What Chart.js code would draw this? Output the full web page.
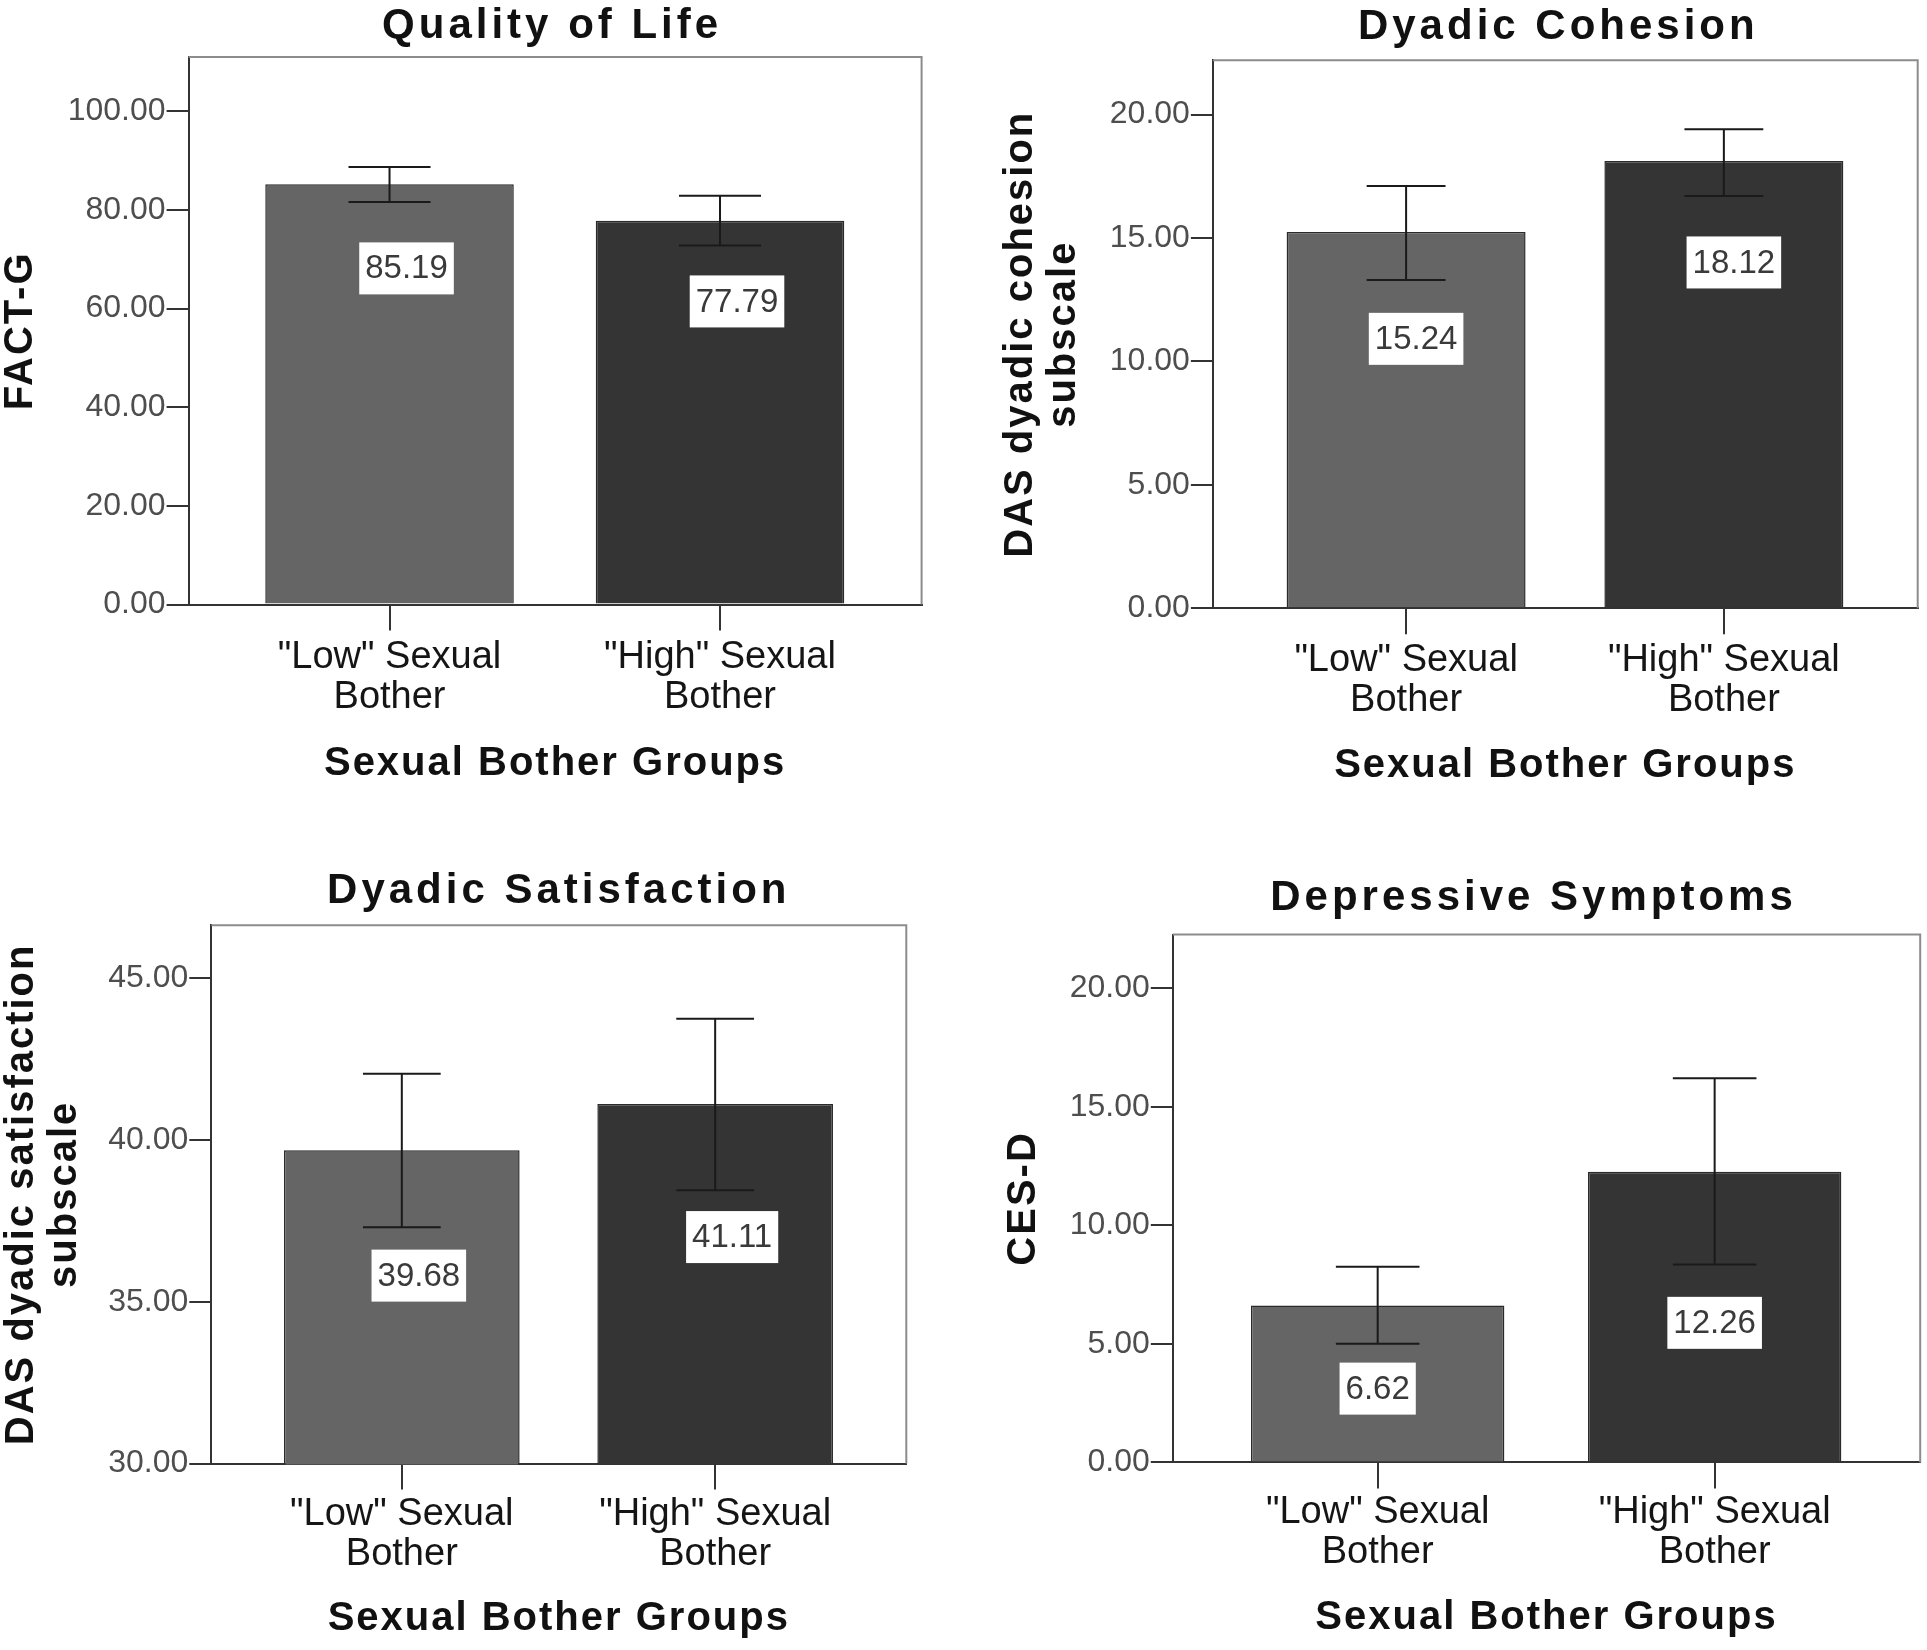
<!DOCTYPE html>
<html>
<head>
<meta charset="utf-8">
<script src="https://cdn.jsdelivr.net/npm/chart.js@4.4.1/dist/chart.umd.min.js"></script>
<style>
  body { margin: 0; background: #fff; width: 1927px; height: 1650px; position: relative; overflow: hidden; }
  .panel { position: absolute; }
</style>
</head>
<body>
<div class="panel" id="p1"><canvas></canvas></div>
<div class="panel" id="p2"><canvas></canvas></div>
<div class="panel" id="p3"><canvas></canvas></div>
<div class="panel" id="p4"><canvas></canvas></div>
<script>
const FONT = '"Liberation Sans", Arial, sans-serif';
const groups = [['"Low" Sexual', 'Bother'], ['"High" Sexual', 'Bother']];
const xTitle = 'Sexual Bother Groups';

// Quality of Life (FACT-G)
const qolMeans = [85.19, 77.79];
const qolLower = [81.6, 72.8];
const qolUpper = [88.7, 82.9];
const qolTicks = [0, 20, 40, 60, 80, 100];

// Dyadic Cohesion
const cohMeans = [15.24, 18.12];
const cohLower = [13.3, 16.7];
const cohUpper = [17.1, 19.4];
const cohTicks = [0, 5, 10, 15, 20];

// Dyadic Satisfaction
const satMeans = [39.68, 41.11];
const satLower = [37.3, 38.45];
const satUpper = [42.05, 43.75];
const satTicks = [30, 35, 40, 45];

// Depressive Symptoms (CES-D)
const depMeans = [6.62, 12.26];
const depLower = [5.0, 8.35];
const depUpper = [8.25, 16.2];
const depTicks = [0, 5, 10, 15, 20];

const barColors = ['#656565', '#343434'];

// box = plot area [left, top, right, bottom], canvas = [x, y, w, h]
const panels = [
  { id: 'p1', title: 'Quality of Life', yTitle: ['FACT-G'],
    means: qolMeans, lower: qolLower, upper: qolUpper, ticks: qolTicks, min: 0, max: 111,
    box: [188.6, 57, 921.6, 604.6], canvas: [0, 0, 960, 800],
    titleMid: 26, titleShift: -3, yTitleMid: 21, xTitleMid: 764, labelMid: 657,
    labelFrac: [0.80, 0.79], labelShift: 17 },
  { id: 'p2', title: 'Dyadic Cohesion', yTitle: ['DAS dyadic cohesion', 'subscale'],
    means: cohMeans, lower: cohLower, upper: cohUpper, ticks: cohTicks, min: 0, max: 22.2,
    box: [1212.9, 60.2, 1917.7, 608.2], canvas: [975, 0, 952, 800],
    titleMid: 27, titleShift: -7, yTitleMid: 1021, xTitleMid: 766, labelMid: 660,
    labelFrac: [0.716, 0.773], labelShift: 10 },
  { id: 'p3', title: 'Dyadic Satisfaction', yTitle: ['DAS dyadic satisfaction', 'subscale'],
    means: satMeans, lower: satLower, upper: satUpper, ticks: satTicks, min: 30, max: 46.64,
    box: [211.3, 925.2, 906.3, 1463.5], canvas: [0, 830, 960, 820],
    titleMid: 891, titleShift: 0, yTitleMid: 22, xTitleMid: 1619, labelMid: 1514,
    labelFrac: [0.60, 0.63], labelShift: 17 },
  { id: 'p4', title: 'Depressive Symptoms', yTitle: ['CES-D'],
    means: depMeans, lower: depLower, upper: depUpper, ticks: depTicks, min: 0, max: 22.26,
    box: [1172.8, 934.5, 1920.2, 1462.4], canvas: [975, 830, 952, 820],
    titleMid: 898, titleShift: -13, yTitleMid: 1024, xTitleMid: 1618, labelMid: 1512,
    labelFrac: [0.47, 0.48], labelShift: 0 }
];

function makeExtras(p) {
  const [cx, cy] = p.canvas;
  return {
    id: 'extras',
    afterDatasetsDraw(chart) {
      const ctx = chart.ctx, area = chart.chartArea, y = chart.scales.y;
      const bars = chart.getDatasetMeta(0).data;
      ctx.save();
      // top and right frame
      ctx.strokeStyle = '#8c8c8c';
      ctx.lineWidth = 2;
      ctx.beginPath();
      ctx.moveTo(area.left, area.top);
      ctx.lineTo(area.right, area.top);
      ctx.lineTo(area.right, area.bottom);
      ctx.stroke();
      // error bars
      ctx.strokeStyle = '#1a1a1a';
      ctx.lineWidth = 2;
      bars.forEach((bar, i) => {
        const hi = y.getPixelForValue(p.upper[i]);
        const lo = y.getPixelForValue(p.lower[i]);
        const half = bar.width * 0.165;
        ctx.beginPath();
        ctx.moveTo(bar.x, hi); ctx.lineTo(bar.x, lo);
        ctx.moveTo(bar.x - half, hi); ctx.lineTo(bar.x + half, hi);
        ctx.moveTo(bar.x - half, lo); ctx.lineTo(bar.x + half, lo);
        ctx.stroke();
      });
      // value labels
      ctx.font = '33px ' + FONT;
      ctx.textAlign = 'center';
      ctx.textBaseline = 'middle';
      bars.forEach((bar, i) => {
        const v = p.means[i];
        const ly = y.getPixelForValue(p.min + (v - p.min) * p.labelFrac[i]);
        const lx = bar.x + p.labelShift;
        const txt = v.toFixed(2);
        const w = ctx.measureText(txt).width + 12;
        ctx.fillStyle = '#fff';
        ctx.fillRect(lx - w / 2, ly - 26, w, 52);
        ctx.fillStyle = '#3a3a3a';
        ctx.fillText(txt, lx, ly + 1);
      });
      ctx.restore();
    },
    afterDraw(chart) {
      const ctx = chart.ctx, area = chart.chartArea;
      const midX = (area.left + area.right) / 2;
      const midY = (area.top + area.bottom) / 2;
      ctx.save();
      ctx.fillStyle = '#111';
      ctx.textAlign = 'center';
      ctx.textBaseline = 'middle';
      // chart title
      ctx.letterSpacing = '4px';
      ctx.font = 'bold 42px ' + FONT;
      ctx.fillText(p.title, midX + p.titleShift, p.titleMid - cy);
      // x axis title
      ctx.letterSpacing = '2px';
      ctx.font = 'bold 40px ' + FONT;
      ctx.fillText(xTitle, midX, p.xTitleMid - cy);
      // y axis title (rotated, lines stacked to the right)
      ctx.translate(p.yTitleMid - cx, midY);
      ctx.rotate(-Math.PI / 2);
      p.yTitle.forEach((line, i) => ctx.fillText(line, 0, i * 43));
      ctx.restore();
    }
  };
}

function build(p) {
  const [cx, cy, cw, ch] = p.canvas;
  const [l, t, r, b] = p.box;
  const wrap = document.getElementById(p.id);
  wrap.style.left = cx + 'px';
  wrap.style.top = cy + 'px';
  wrap.style.width = cw + 'px';
  wrap.style.height = ch + 'px';

  const yw = l - cx;
  const xh = cy + ch - b;
  const padRight = cx + cw - r;
  const padTop = t - cy;
  const xTickPad = p.labelMid - b - 26 - 20.3;

  new Chart(wrap.querySelector('canvas'), {
    type: 'bar',
    data: {
      datasets: [{
        data: p.means.map((v, i) => ({ x: i, y: v })),
        backgroundColor: barColors,
        borderColor: '#2a2a2a',
        borderWidth: 1.5,
        barPercentage: 0.752,
        categoryPercentage: 1,
        clip: 1
      }]
    },
    options: {
      responsive: true,
      maintainAspectRatio: false,
      animation: false,
      layout: { padding: { left: 0, right: padRight, top: padTop, bottom: 0 } },
      plugins: {
        legend: { display: false },
        tooltip: { enabled: false },
        title: { display: false }
      },
      scales: {
        x: {
          type: 'linear', min: -0.608, max: 1.61, offset: false,
          afterBuildTicks: s => { s.ticks = groups.map((g, i) => ({ value: i })); },
          afterFit: s => { s.height = xh; },
          ticks: {
            callback: v => groups[v], color: '#151515', maxRotation: 0, autoSkip: false,
            font: { size: 38, family: FONT, lineHeight: 1.07 }, padding: xTickPad
          },
          grid: { offset: false, drawOnChartArea: false, tickLength: 26, color: '#333', lineWidth: 2 },
          border: { color: '#333', width: 2 }
        },
        y: {
          min: p.min, max: p.max,
          afterBuildTicks: s => { s.ticks = p.ticks.map(v => ({ value: v })); },
          afterFit: s => { s.width = yw; },
          ticks: {
            callback: v => v.toFixed(2), color: '#4e4e4e', padding: 1,
            font: { size: 32, family: FONT }
          },
          grid: { drawOnChartArea: false, tickLength: 22, color: '#333', lineWidth: 2 },
          border: { color: '#333', width: 2 }
        }
      }
    },
    plugins: [makeExtras(p)]
  });
}

panels.forEach(build);
</script>
</body>
</html>
